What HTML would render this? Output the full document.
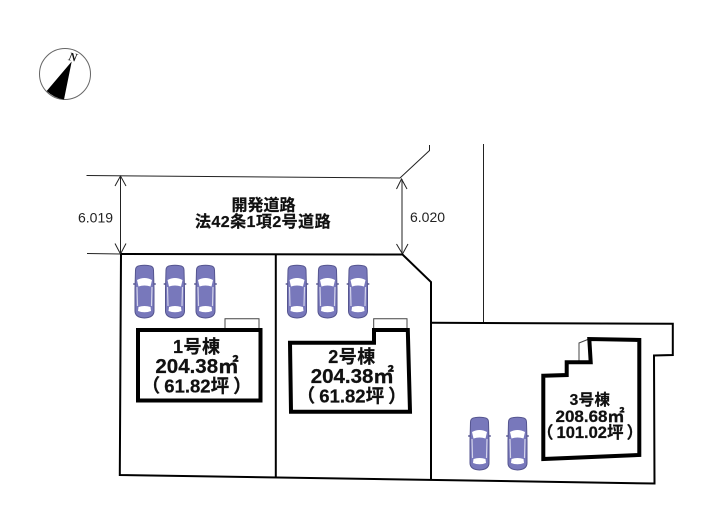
<!DOCTYPE html>
<html lang="ja">
<head>
<meta charset="utf-8">
<title>区画図</title>
<style>
html,body{margin:0;padding:0;background:#fff;}
svg{display:block;}
text{font-family:"Liberation Sans","Noto Sans CJK JP",sans-serif;fill:#111;}
.b{font-weight:700;text-anchor:middle;dominant-baseline:central;stroke:#111;stroke-width:.25;}
.d{font-size:14px;dominant-baseline:central;fill:#222;}
</style>
</head>
<body>
<svg width="705" height="525" viewBox="0 0 705 525" xmlns="http://www.w3.org/2000/svg">
<defs>
<g id="car">
  <path d="M1.500 5Q1.500 1 6 .6Q10.500 -.2 15 .6Q19.500 1 19.500 5L20 24L20 46Q20 52.500 10.500 53Q1 52.500 1 46L1 24Z" fill="#7878bb" stroke="#55558f" stroke-width="1"/>
  <path d="M3 15Q10.500 11 18 15L16.500 21.500Q10.500 19.500 4.500 21.500Z" fill="#fff"/>
  <path d="M3 22L3.500 41M18 22L17.500 41" stroke="#d4d4ea" stroke-width="1.200" fill="none"/>
  <path d="M4.500 42Q10.500 40 16.500 42L17 46Q10.500 48.500 4 46Z" fill="#fff"/>
  <path d="M1 19H-.8M20 19H21.800" stroke="#55558f" stroke-width="1.500"/>
</g>
</defs>
<rect width="705" height="525" fill="#fff"/>

<!-- compass -->
<circle cx="65" cy="74" r="25.500" fill="none" stroke="#666" stroke-width="1"/>
<path d="M71.700 61.500L46.700 91Q54 98 64 99.500Z" fill="#000"/>
<text x="73" y="57" font-size="12" font-weight="700" font-style="italic" text-anchor="middle" dominant-baseline="central" transform="rotate(12 73 57)" style="font-family:'Liberation Serif',serif">N</text>

<!-- road -->
<g fill="none" stroke="#222" stroke-width="1">
  <path d="M86.500 175.500L400 178L429.500 150.500V145"/>
  <path d="M483.500 144V323"/>
  <path d="M87 253.500L121 254"/>
  <path d="M120.500 177V253"/>
  <path d="M115 186L120.500 176L126 186M115 243.500L120.500 254L126 243.500"/>
  <path d="M402 179V253.500"/>
  <path d="M396.500 189L401.500 179L407 189M396.500 244L402.500 254L408 244"/>
</g>

<!-- lots -->
<g fill="none" stroke="#000" stroke-width="2">
  <path d="M121 254L402.500 254.500L431 282V480"/>
  <path d="M121 254L119.800 475L654.500 483.500L654 355.500L672.800 355V323.800L431 322.800"/>
  <path d="M275.800 254V478"/>
</g>

<!-- annexes -->
<g fill="none" stroke="#444" stroke-width="1">
  <path d="M225 330V318.800H259V330"/>
  <path d="M373.700 330V318.800H407V330"/>
  <path d="M589 339L579 343V362"/>
</g>

<!-- buildings -->
<g fill="#fff" stroke="#000" stroke-width="4" stroke-linejoin="miter">
  <path d="M138 330H260.500V400.500H138Z"/>
  <path d="M290 342.700H374V330H407.800L410 411.700H291Z"/>
  <path d="M543.300 375.700L566.700 375V362.300H590.700L589.300 339L639.300 340V455L543.300 459Z"/>
</g>

<!-- cars -->
<use href="#car" x="134" y="265"/>
<use href="#car" x="164.500" y="265"/>
<use href="#car" x="195" y="265"/>
<use href="#car" x="286.500" y="265"/>
<use href="#car" x="317" y="265"/>
<use href="#car" x="347.500" y="265"/>
<use href="#car" x="469" y="417"/>
<use href="#car" x="507" y="417"/>

<!-- labels -->
<text class="d" x="78" y="217.500">6.019</text>
<text class="d" x="410" y="217">6.020</text>

<text class="b" x="263.500" y="206" font-size="16">開発道路</text>
<text class="b" x="263" y="222.500" font-size="16" letter-spacing=".45">法42条1項2号道路</text>

<text class="b" x="196.700" y="347" font-size="18" letter-spacing=".5">1号棟</text>
<text class="b" x="197" y="366.500" font-size="20.500">204.38㎡</text>
<text class="b" x="196.700" y="385.500" font-size="18.500">（<tspan dx="4">61.82坪</tspan><tspan dx="4">）</tspan></text>

<text class="b" x="352" y="357" font-size="18" letter-spacing=".5">2号棟</text>
<text class="b" x="352.300" y="376.500" font-size="20.500">204.38㎡</text>
<text class="b" x="351.700" y="395.500" font-size="18.500">（<tspan dx="4">61.82坪</tspan><tspan dx="4">）</tspan></text>

<text class="b" x="590" y="400.500" font-size="15.500" letter-spacing=".4">3号棟</text>
<text class="b" x="590" y="416.500" font-size="17">208.68㎡</text>
<text class="b" x="590" y="433" font-size="16.500">（<tspan dx="3">101.02坪</tspan><tspan dx="3">）</tspan></text>
</svg>
</body>
</html>
